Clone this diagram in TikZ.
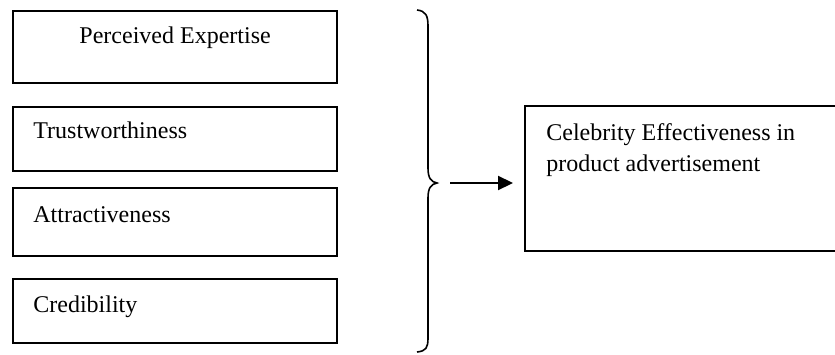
\documentclass[tikz,border=0pt]{standalone}
\usepackage{fontspec}
\setmainfont{Liberation Serif}
\usetikzlibrary{arrows.meta,calc}
\begin{document}
\begin{tikzpicture}[x=0.5pt,y=-0.5pt,
  factorbox/.style={draw,line width=1.1pt,rectangle,anchor=north west,inner sep=0pt},
  openbox/.style={rectangle,anchor=north west,inner sep=0pt},
  box edge/.style={line width=1.1pt},
  label text/.style={anchor=base west,inner sep=0pt,font=\fontsize{12}{15.5}\selectfont},
  brace line/.style={line width=0.8pt},
  flow arrow/.style={line width=1.1pt,-{Triangle[length=7.5pt,width=7pt]}}]
  \useasboundingbox (0,0) rectangle (835,354);
  % four determinant boxes
  \node[factorbox,minimum width=162pt,minimum height=36pt] (expertise) at (12,10) {};
  \node[factorbox,minimum width=162pt,minimum height=32pt] (trust) at (12,106) {};
  \node[factorbox,minimum width=162pt,minimum height=34pt] (attract) at (12,187) {};
  \node[factorbox,minimum width=162pt,minimum height=32pt] (cred) at (12,278) {};
  % outcome box, its right side cut off by the page edge
  \node[openbox,minimum width=156pt,minimum height=72pt] (effect) at (525,106) {};
  \draw[box edge] (effect.north east) -- (effect.north west)
    -- (effect.south west) -- (effect.south east);
  % labels
  \node[label text,anchor=base] (texp) at ($(expertise.north)+(0,33)$) {Perceived Expertise};
  \node[label text] (ttrust) at ($(trust.north west)+(21,32)$) {Trustworthiness};
  \node[label text] (tattr) at ($(attract.north west)+(21,35)$) {Attractiveness};
  \node[label text] (tcred) at ($(cred.north west)+(21,34)$) {Credibility};
  \node[label text] (teff) at ($(effect.north west)+(21,34)$) {Celebrity Effectiveness in};
  \node[label text] (teff2) at ($(effect.north west)+(21,65)$) {product advertisement};
  % curly brace grouping the determinants
  \coordinate (btop) at (417,10);
  \coordinate (btip) at (437,183);
  \coordinate (bbot) at (417,352);
  \draw[brace line] (btop) .. controls (426,11) and (428,16) .. (428,26)
    -- (428,168) .. controls (428,178) and (431,182) .. (btip)
    .. controls (431,184) and (428,188) .. (428,198)
    -- (428,338) .. controls (428,348) and (426,351) .. (bbot);
  % arrow towards the outcome
  \coordinate (astart) at (450,183);
  \coordinate (aend) at (513,183);
  \draw[flow arrow] (astart) -- (aend);
\end{tikzpicture}
\end{document}
